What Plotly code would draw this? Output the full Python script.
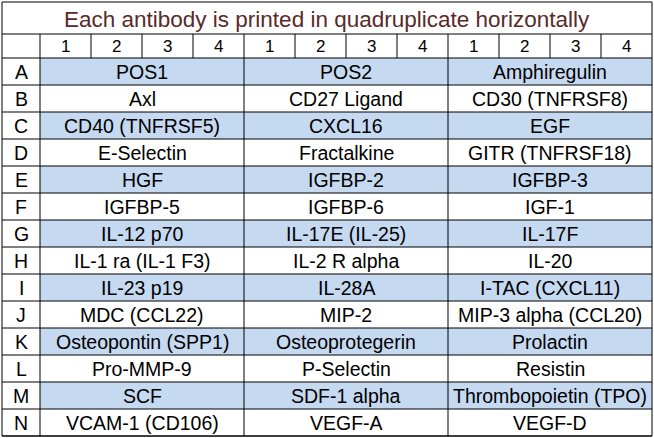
import plotly.graph_objects as go

title = "Each antibody is printed in quadruplicate horizontally"
row_labels = list("ABCDEFGHIJKLMN")
col_numbers = ["1", "2", "3", "4"]
group1 = ["POS1", "Axl", "CD40 (TNFRSF5)", "E-Selectin", "HGF", "IGFBP-5", "IL-12 p70",
          "IL-1 ra (IL-1 F3)", "IL-23 p19", "MDC (CCL22)", "Osteopontin (SPP1)", "Pro-MMP-9", "SCF", "VCAM-1 (CD106)"]
group2 = ["POS2", "CD27 Ligand", "CXCL16", "Fractalkine", "IGFBP-2", "IGFBP-6", "IL-17E (IL-25)",
          "IL-2 R alpha", "IL-28A", "MIP-2", "Osteoprotegerin", "P-Selectin", "SDF-1 alpha", "VEGF-A"]
group3 = ["Amphiregulin", "CD30 (TNFRSF8)", "EGF", "GITR (TNFRSF18)", "IGFBP-3", "IGF-1", "IL-17F",
          "IL-20", "I-TAC (CXCL11)", "MIP-3 alpha (CCL20)", "Prolactin", "Resistin", "Thrombopoietin (TPO)", "VEGF-D"]
groups = [group1, group2, group3]

X0, X1 = 2, 652
LW = 38
GW = (X1 - X0 - LW) / 3
TOP, TITLE_H, HEAD_H = 2, 32, 24
ROW_H = 27
BLUE = "#c5d9f1"
LINE = dict(color="black", width=1)
FAM = "Liberation Sans, Arial"

shapes, ann = [], []
font = dict(family=FAM, size=19.5, color="black")
y_head = TOP + TITLE_H
y_rows = y_head + HEAD_H
y_end = y_rows + ROW_H * len(row_labels)

for i, r in enumerate(row_labels):
    y0 = y_rows + i * ROW_H
    if i % 2 == 0:
        shapes.append(dict(type="rect", x0=X0 + LW, x1=X1, y0=y0, y1=y0 + ROW_H,
                           fillcolor=BLUE, line=dict(width=0), layer="below"))
    ann.append(dict(x=X0 + LW / 2, y=y0 + ROW_H / 2, text=r, font=font))
    for g in range(3):
        ann.append(dict(x=X0 + LW + GW * (g + 0.5), y=y0 + ROW_H / 2, text=groups[g][i], font=font))
    shapes.append(dict(type="line", x0=X0, x1=X1, y0=y0 + ROW_H, y1=y0 + ROW_H, line=LINE))

shapes.append(dict(type="rect", x0=X0, x1=X1, y0=TOP, y1=y_end, line=LINE))
shapes.append(dict(type="line", x0=X0, x1=X1, y0=y_head, y1=y_head, line=LINE))
shapes.append(dict(type="line", x0=X0, x1=X1, y0=y_rows, y1=y_rows, line=LINE))
shapes.append(dict(type="line", x0=X0 + LW, x1=X0 + LW, y0=y_head, y1=y_end, line=LINE))
for g in range(3):
    gx = X0 + LW + GW * g
    if g > 0:
        shapes.append(dict(type="line", x0=gx, x1=gx, y0=y_head, y1=y_end, line=LINE))
    for k, c in enumerate(col_numbers):
        sx = gx + GW / 4 * k
        if k > 0:
            shapes.append(dict(type="line", x0=sx, x1=sx, y0=y_head, y1=y_rows, line=LINE))
        ann.append(dict(x=sx + GW / 8, y=y_head + HEAD_H / 2, text=c,
                        font=dict(family=FAM, size=17, color="black")))

ann.append(dict(x=(X0 + X1) / 2, y=TOP + TITLE_H / 2 + 1, text=title,
                font=dict(family=FAM, size=22.5, color="#5a2a2a")))
for a in ann:
    a.update(xref="x", yref="y", showarrow=False, xanchor="center", yanchor="middle")

fig = go.Figure()
fig.update_layout(width=654, height=438, margin=dict(l=0, r=0, t=0, b=0),
                  plot_bgcolor="white", paper_bgcolor="white",
                  shapes=shapes, annotations=ann, showlegend=False)
fig.update_xaxes(range=[0, 654], visible=False, fixedrange=True)
fig.update_yaxes(range=[438, 0], visible=False, fixedrange=True)
fig.write_html("out.html", config={"displayModeBar": False})

with open("out.html", encoding="utf-8") as f:
    html = f.read()
html = html.replace("<head>", "<head><style>html,body{margin:0;padding:0;overflow:hidden}</style>", 1)
with open("out.html", "w", encoding="utf-8") as f:
    f.write(html)
